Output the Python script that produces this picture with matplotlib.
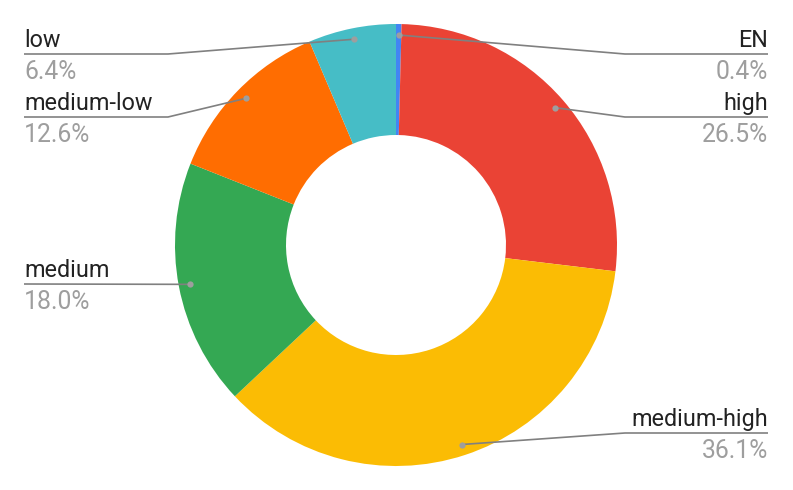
import numpy as np
import matplotlib
matplotlib.use("Agg")
import matplotlib.pyplot as plt

categories = ["EN", "high", "medium-high", "medium", "medium-low", "low"]
values = [0.4, 26.5, 36.1, 18.0, 12.6, 6.4]
colors = ["#4285F4", "#EA4335", "#FBBC04", "#34A853", "#FF6D01", "#46BDC6"]

# layout (pixel coordinates, y down)
W, H = 793, 490
cx, cy = 396, 245
R_out, R_in = 221, 110
label_side = {"EN": "right", "high": "right", "medium-high": "right",
              "medium": "left", "medium-low": "left", "low": "left"}
label_line_y = {"EN": 54, "high": 117, "medium-high": 433,
                "medium": 284, "medium-low": 117, "low": 54}
x_left, x_right = 24, 768
elbow_left, elbow_right = 168, 625

plt.rcParams["font.family"] = ["Roboto", "DejaVu Sans"]
fig = plt.figure(figsize=(W / 100, H / 100), dpi=100)
ax = fig.add_axes([0, 0, 1, 1])
ax.set_xlim(0, W)
ax.set_ylim(0, H)
ax.axis("off")

def Y(py):
    return H - py

wedges, _ = ax.pie(values, colors=colors, startangle=90, counterclock=False,
                   center=(cx, Y(cy)), radius=R_out,
                   wedgeprops=dict(width=R_out - R_in, linewidth=0))
ax.set_xlim(0, W)
ax.set_ylim(0, H)
ax.set_aspect("auto")

fs_label = 16.8
fs_pct = 17.8
r_dot = 210
for w, cat, val in zip(wedges, categories, values):
    mid = np.deg2rad((w.theta1 + w.theta2) / 2)
    dx = cx + r_dot * np.cos(mid)
    dy = Y(cy) + r_dot * np.sin(mid)
    ly = Y(label_line_y[cat])
    if label_side[cat] == "left":
        xs = [x_left, elbow_left, dx]
        tx, ha = x_left, "left"
    else:
        xs = [x_right, elbow_right, dx]
        tx, ha = x_right, "right"
    if abs(dy - ly) < 1:
        xs = [xs[0], dx]
        ys = [ly, dy]
    else:
        ys = [ly, ly, dy]
    ax.plot(xs, ys, color="#808080", lw=1.2, solid_capstyle="butt", zorder=3)
    ax.plot([dx], [dy], "o", color="#9e9e9e", ms=4.5, mec="none", zorder=4)
    ax.text(tx, ly + 7, cat, ha=ha, va="baseline", fontsize=fs_label, color="#222222")
    ax.text(tx, ly - 25, f"{val:.1f}%", ha=ha, va="baseline", fontsize=fs_pct, color="#9e9e9e")

fig.savefig("out.png", dpi=100)
